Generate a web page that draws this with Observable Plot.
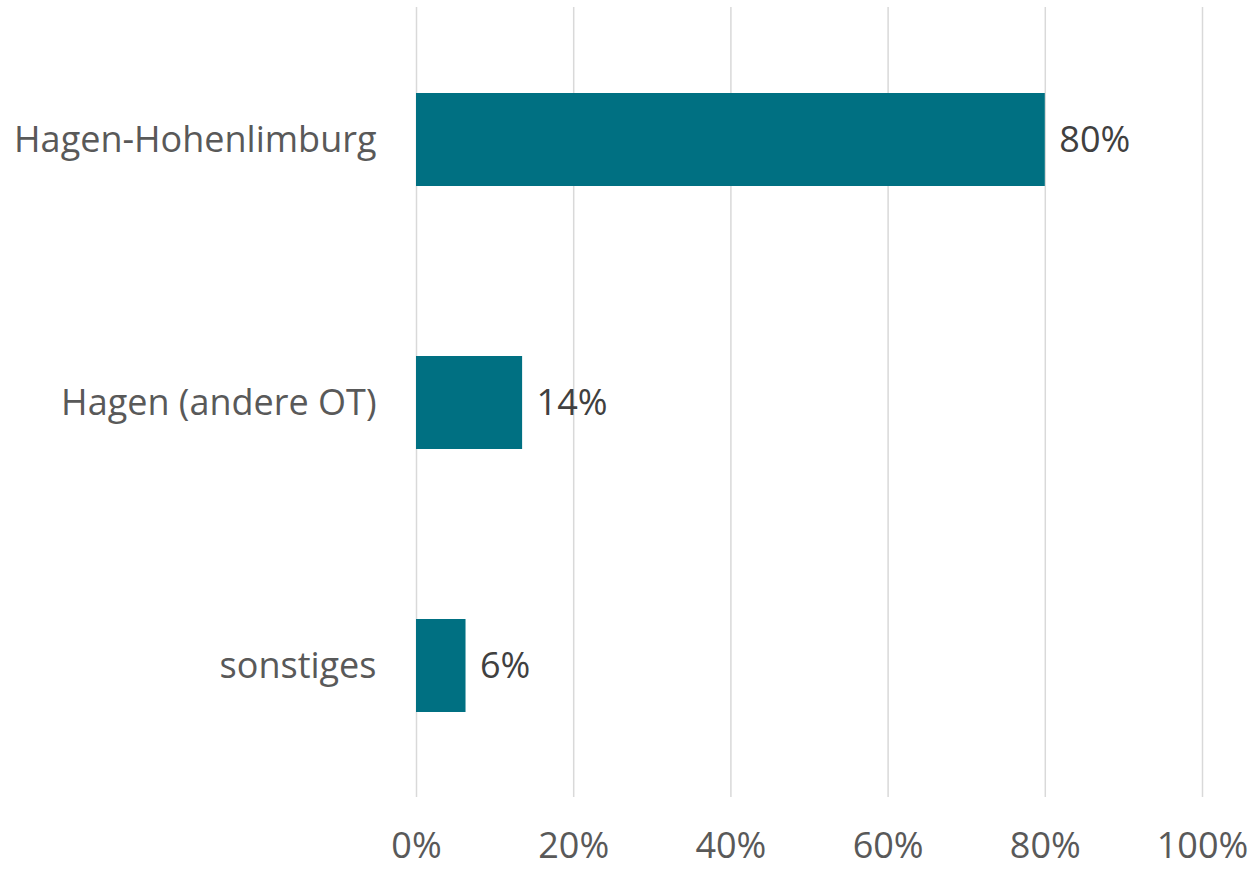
<!DOCTYPE html>
<html>
<head>
<meta charset="utf-8">
<script src="https://cdn.jsdelivr.net/npm/d3@7"></script>
<script src="https://cdn.jsdelivr.net/npm/@observablehq/plot@0.6"></script>
<style>
  html, body { margin: 0; padding: 0; background: #fff; }
  #chart svg { display: block; }
</style>
</head>
<body>
<div id="chart"></div>
<script>
const categories = ["Hagen-Hohenlimburg", "Hagen (andere OT)", "sonstiges"];
const values = [0.80, 0.135, 0.063];
const valueLabels = ["80%", "14%", "6%"];
const xTicks = [0, 0.2, 0.4, 0.6, 0.8, 1.0];
const xTickLabels = ["0%", "20%", "40%", "60%", "80%", "100%"];

const data = categories.map((c, i) => ({cat: c, value: values[i], label: valueLabels[i]}));

const font = "'Open Sans', 'Noto Sans', sans-serif";

const chart = Plot.plot({
  width: 1254,
  height: 870,
  marginLeft: 416,
  marginRight: 52,
  marginTop: 7,
  marginBottom: 73,
  style: {fontFamily: font, background: "#fff"},
  x: {domain: [0, 1]},
  y: {domain: categories, paddingInner: 0.648, paddingOuter: 0.324},
  marks: [
    Plot.gridX(xTicks, {stroke: "#d9d9d9", strokeOpacity: 1, strokeWidth: 1.5}),
    Plot.barX(data, {x: "value", y: "cat", fill: "#007082"}),
    Plot.text(data, {x: "value", y: "cat", text: "label", textAnchor: "start", dx: 14, fontSize: 36, fill: "#404040"}),
    Plot.axisY({tickSize: 0, tickPadding: 40, fontSize: 36, color: "#595959", label: null}),
    Plot.axisX({ticks: xTicks, tickFormat: (d, i) => xTickLabels[i], tickSize: 0, tickPadding: 35, fontSize: 36, color: "#595959", label: null})
  ]
});
document.getElementById("chart").appendChild(chart);
</script>
</body>
</html>
